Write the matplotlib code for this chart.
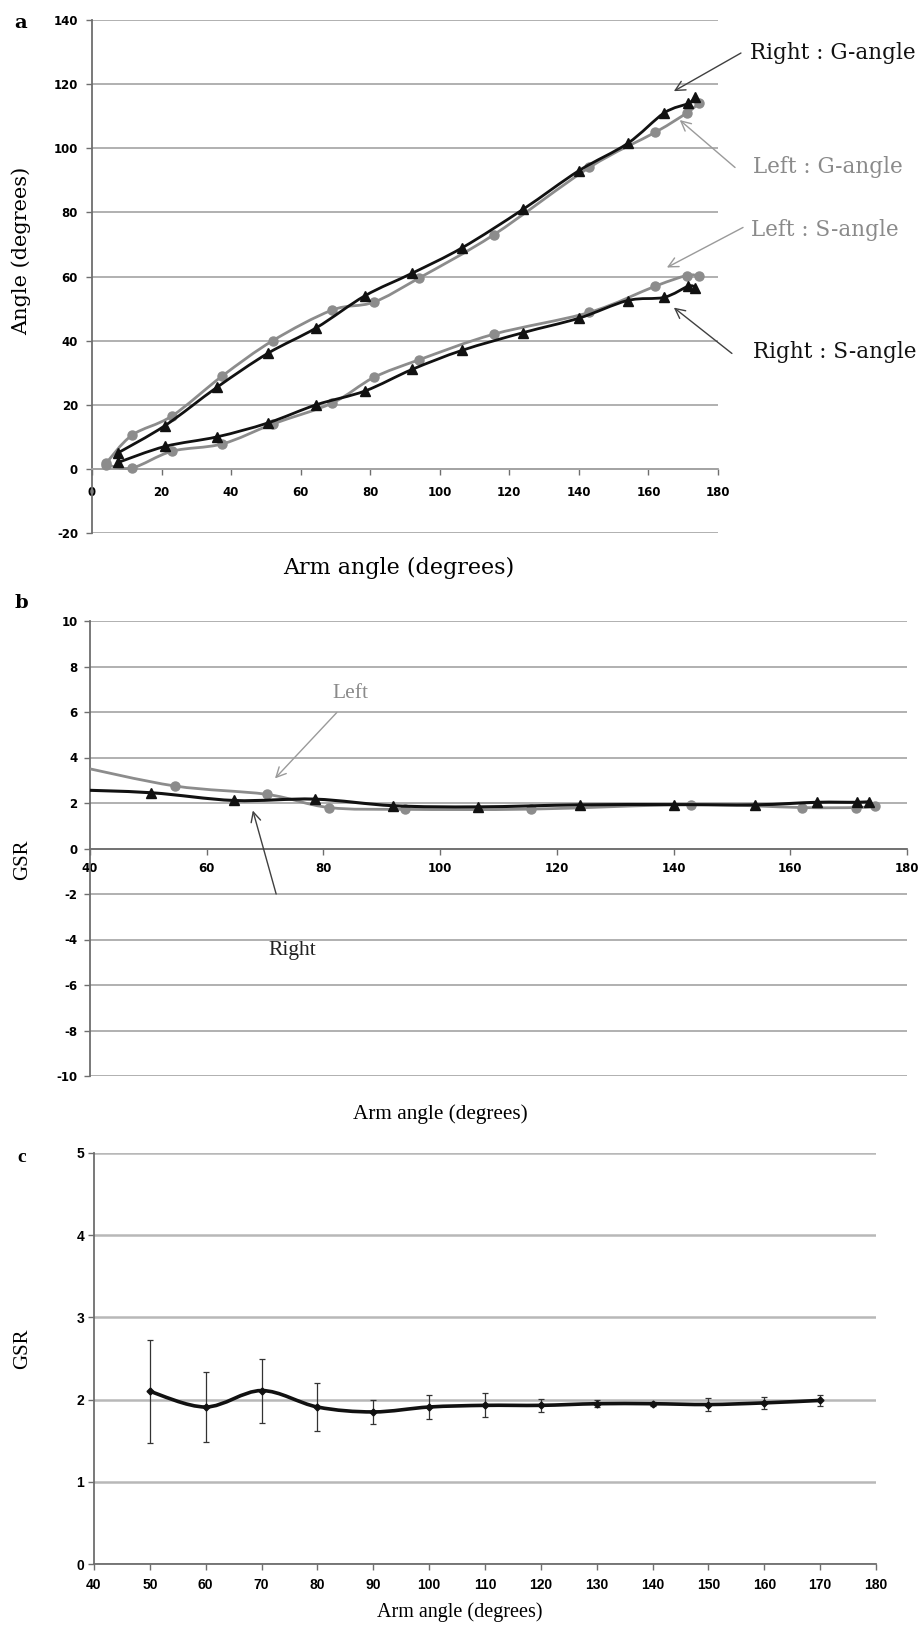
import numpy as np
import matplotlib
matplotlib.use("Agg")
import matplotlib.pyplot as plt
from matplotlib.path import Path
from matplotlib.patches import PathPatch

# ---------------- data ----------------
# Panel a
arm_right = [7.5, 21, 36, 50.5, 64.5, 78.5, 92, 106.5, 124, 140, 154, 164.5, 171.5, 173.5]
g_right = [5, 13.5, 25.5, 36, 44, 54, 61, 69, 81, 93, 101.5, 111, 114, 116]
s_right = [2, 7, 10, 14.3, 20, 24.3, 31, 37, 42.5, 47, 52.5, 53.5, 57, 56.5]
arm_left = [4, 11.5, 23, 37.5, 52, 69, 81, 94, 115.5, 143, 162, 171, 174.5]
g_left = [1.7, 10.5, 16.5, 29, 40, 49.5, 52, 59.5, 73, 94, 105, 111, 114]
s_left = [1.3, 0.3, 5.5, 7.8, 14, 20.5, 28.5, 34, 42, 48.8, 57, 60.3, 60.2]

# Panel b
arm_right_b = [36, 50.5, 64.7, 78.5, 92, 106.5, 124, 140, 154, 164.5, 171.5, 173.5]
gsr_right = [2.59, 2.45, 2.11, 2.17, 1.88, 1.83, 1.92, 1.93, 1.92, 2.03, 2.03, 2.06]
arm_left_b = [37.5, 54.5, 70.3, 81, 94, 115.5, 143, 162, 171.3, 174.5]
gsr_left = [3.64, 2.75, 2.38, 1.80, 1.72, 1.73, 1.93, 1.80, 1.80, 1.85]

# Panel c
arm_c = [50, 60, 70, 80, 90, 100, 110, 120, 130, 140, 150, 160, 170]
gsr_mean = [2.10, 1.91, 2.11, 1.91, 1.85, 1.91, 1.93, 1.93, 1.95, 1.95, 1.94, 1.96, 1.99]
gsr_sd = [0.63, 0.42, 0.39, 0.29, 0.15, 0.15, 0.145, 0.075, 0.045, 0.025, 0.075, 0.075, 0.07]

xticks_a = list(range(0, 181, 20))
yticks_a = list(range(-20, 141, 20))
xticks_b = list(range(40, 181, 20))
yticks_b = list(range(-10, 11, 2))
xticks_c = list(range(40, 181, 10))
yticks_c = [0, 1, 2, 3, 4, 5]

# ---------------- helpers ----------------
W, H = 918, 1625
fig = plt.figure(figsize=(W / 100, H / 100), dpi=100)


def fx(px):
    return px / W


def fy(py):
    return 1 - py / H


def rect(l, t, r, b):
    return [fx(l), fy(b), fx(r) - fx(l), fy(t) - fy(b)]


def smooth_path(x, y):
    pts = np.column_stack([np.asarray(x, float), np.asarray(y, float)])
    verts = [pts[0]]
    codes = [Path.MOVETO]
    n = len(pts)
    for i in range(n - 1):
        p0 = pts[i - 1] if i > 0 else pts[i]
        p1 = pts[i]
        p2 = pts[i + 1]
        p3 = pts[i + 2] if i + 2 < n else pts[i + 1]
        c1 = p1 + (p2 - p0) / 6.0
        c2 = p2 - (p3 - p1) / 6.0
        verts += [c1, c2, p2]
        codes += [Path.CURVE4] * 3
    return Path(verts, codes)


def smooth_line(ax, x, y, color, lw, zorder):
    patch = PathPatch(smooth_path(x, y), fill=False, edgecolor=color, lw=lw,
                      zorder=zorder, capstyle="round", joinstyle="round")
    ax.add_patch(patch)


GRID = "#a3a3a3"
SPINE = "#6e6e6e"
GRAY = "#8c8c8c"
BLACK = "#111111"
SERIF = ["DejaVu Serif"]
SERIF2 = ["Liberation Serif", "DejaVu Serif"]
TICKFONT_C = ["Liberation Sans", "DejaVu Sans"]


def style_axes(ax, grid_color=GRID, grid_lw=1.2):
    for s in ["top", "right"]:
        ax.spines[s].set_visible(False)
    ax.spines["left"].set_color(SPINE)
    ax.spines["left"].set_linewidth(1.3)
    ax.spines["bottom"].set_color(SPINE)
    ax.spines["bottom"].set_linewidth(1.3)
    ax.yaxis.grid(True, color=grid_color, lw=grid_lw)
    ax.set_axisbelow(True)
    ax.tick_params(axis="both", direction="out", length=4, width=1, color=SPINE)


# ---------------- panel a ----------------
axA = fig.add_axes(rect(92, 20, 718, 533))
axA.set_xlim(0, 180)
axA.set_ylim(-20, 140)
style_axes(axA)
axA.spines["bottom"].set_position(("data", 0))
axA.spines["bottom"].set_color(GRID)
axA.set_xticks(xticks_a)
axA.set_yticks(yticks_a)
axA.set_xticklabels([str(v) for v in xticks_a], fontsize=8.5, fontweight="bold", family="DejaVu Sans")
axA.set_yticklabels([str(v) for v in yticks_a], fontsize=8.5, fontweight="bold", family="DejaVu Sans")
axA.tick_params(axis="x", pad=8)
axA.tick_params(axis="y", pad=6)

smooth_line(axA, arm_left, g_left, GRAY, 2.0, 3)
smooth_line(axA, arm_left, s_left, GRAY, 2.0, 3)
axA.plot(arm_left, g_left, "o", color=GRAY, ms=6.5, zorder=4)
axA.plot(arm_left, s_left, "o", color=GRAY, ms=6.5, zorder=4)
smooth_line(axA, arm_right, g_right, BLACK, 2.0, 5)
smooth_line(axA, arm_right, s_right, BLACK, 2.0, 5)
axA.plot(arm_right, g_right, "^", color=BLACK, ms=7.5, zorder=6)
axA.plot(arm_right, s_right, "^", color=BLACK, ms=7.5, zorder=6)

ann_a = [
    ("Right : G-angle", (189.2, 129.7), (186.6, 129.7), (167.3, 117.8), "#111111", "#404040"),
    ("Left : G-angle", (190.0, 94.0), (184.9, 94.0), (169.0, 108.8), "#8a8a8a", "#9a9a9a"),
    ("Left : S-angle", (189.5, 74.4), (187.2, 75.3), (165.3, 62.8), "#8a8a8a", "#9a9a9a"),
    ("Right : S-angle", (190.0, 36.3), (184.0, 36.0), (167.3, 50.3), "#111111", "#404040"),
]
for txt, tpos, tail, head, tcol, acol in ann_a:
    axA.text(tpos[0], tpos[1], txt, fontsize=15.5, family=SERIF, color=tcol,
             ha="left", va="center", clip_on=False)
    axA.annotate("", xy=head, xytext=tail, annotation_clip=False,
                 arrowprops=dict(arrowstyle="->,head_length=0.7,head_width=0.35",
                                 color=acol, lw=1.0, shrinkA=0, shrinkB=0))

fig.text(fx(21), fy(23), "a", fontsize=14, fontweight="bold", family=SERIF, ha="center", va="center")
fig.text(fx(21), fy(251), "Angle (degrees)", fontsize=15, family=SERIF, rotation=90,
         ha="center", va="center")
fig.text(fx(399), fy(568), "Arm angle (degrees)", fontsize=16, family=SERIF,
         ha="center", va="center")

# ---------------- panel b ----------------
axB = fig.add_axes(rect(90, 621, 907, 1076))
axB.set_xlim(40, 180)
axB.set_ylim(-10, 10)
style_axes(axB)
axB.spines["bottom"].set_position(("data", 0))
axB.set_xticks(xticks_b)
axB.set_yticks(yticks_b)
axB.set_xticklabels([str(v) for v in xticks_b], fontsize=8.5, fontweight="bold", family="DejaVu Sans")
axB.set_yticklabels([str(v) for v in yticks_b], fontsize=8.5, fontweight="bold", family="DejaVu Sans")
axB.tick_params(axis="x", pad=6)
axB.tick_params(axis="y", pad=5)

smooth_line(axB, arm_left_b, gsr_left, GRAY, 2.0, 3)
axB.plot(arm_left_b, gsr_left, "o", color=GRAY, ms=6.5, zorder=4)
smooth_line(axB, arm_right_b, gsr_right, BLACK, 2.2, 5)
axB.plot(arm_right_b, gsr_right, "^", color=BLACK, ms=7.5, zorder=6)

axB.text(84.6, 6.8, "Left", fontsize=15.5, family=SERIF2, color="#8a8a8a", ha="center", va="center")
axB.annotate("", xy=(71.7, 3.08), xytext=(82.3, 5.98),
             arrowprops=dict(arrowstyle="->,head_length=0.7,head_width=0.35",
                             color="#9a9a9a", lw=1.0, shrinkA=0, shrinkB=0))
axB.text(74.6, -4.5, "Right", fontsize=15.5, family=SERIF2, color="#222222", ha="center", va="center")
axB.annotate("", xy=(67.9, 1.67), xytext=(71.9, -2.0),
             arrowprops=dict(arrowstyle="->,head_length=0.7,head_width=0.35",
                             color="#404040", lw=1.0, shrinkA=0, shrinkB=0))

fig.text(fx(21), fy(603), "b", fontsize=14, fontweight="bold", family=SERIF, ha="center", va="center")
fig.text(fx(23), fy(860), "GSR", fontsize=15, family=SERIF2, rotation=90, ha="center", va="center")
fig.text(fx(440), fy(1114), "Arm angle (degrees)", fontsize=15.3, family=SERIF2, ha="center", va="center")

# ---------------- panel c ----------------
axC = fig.add_axes(rect(94, 1153, 876, 1564))
axC.set_xlim(40, 180)
axC.set_ylim(0, 5)
style_axes(axC, grid_color="#b8b8b8", grid_lw=1.8)
axC.set_xticks(xticks_c)
axC.set_yticks(yticks_c)
axC.set_xticklabels([str(v) for v in xticks_c], fontsize=10, fontweight="bold", family=TICKFONT_C)
axC.set_yticklabels([str(v) for v in yticks_c], fontsize=10, fontweight="bold", family=TICKFONT_C)
axC.tick_params(axis="x", pad=6)
axC.tick_params(axis="y", pad=3)

axC.errorbar(arm_c, gsr_mean, yerr=gsr_sd, fmt="none", ecolor="#333333", elinewidth=0.9,
             capsize=2.5, capthick=0.9, zorder=4)
smooth_line(axC, arm_c, gsr_mean, BLACK, 2.6, 5)
axC.plot(arm_c, gsr_mean, "D", color=BLACK, ms=3.5, zorder=6)

fig.text(fx(22), fy(1158), "c", fontsize=14, family=SERIF2, fontweight="bold", ha="center", va="center")
fig.text(fx(23), fy(1349), "GSR", fontsize=15, family=SERIF2, rotation=90, ha="center", va="center")
fig.text(fx(460), fy(1612), "Arm angle (degrees)", fontsize=14.5, family=SERIF2, ha="center", va="center")

fig.savefig("out.png", dpi=100, facecolor="white")
